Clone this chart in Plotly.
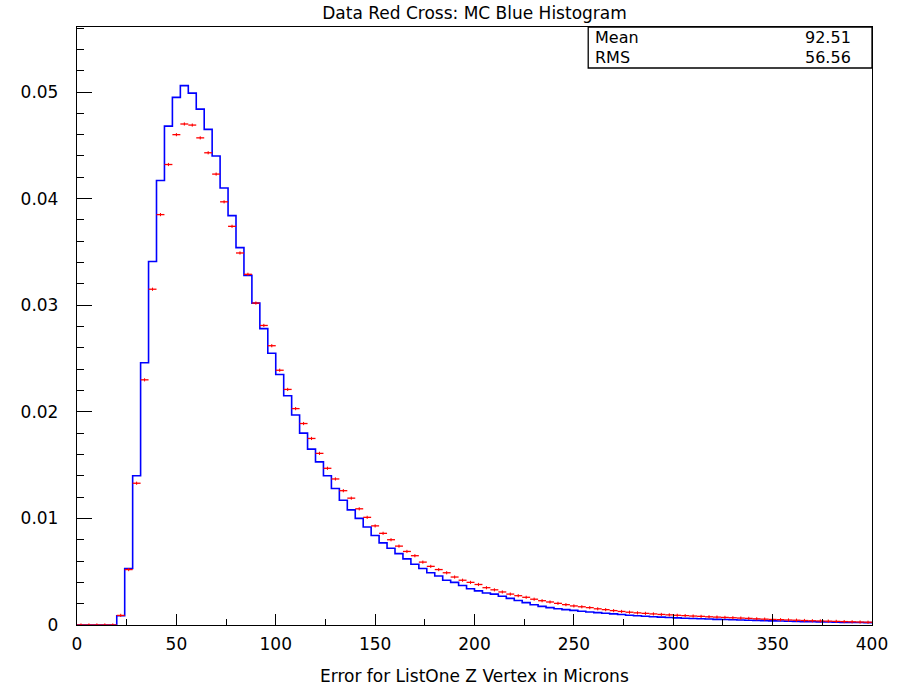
import plotly.graph_objects as go

# ---- data ----
bin_edges_start = 0
bin_width = 4
n_bins = 100

mc_blue = [
    0, 0, 0, 0, 0,
    0.00087, 0.0053, 0.0140, 0.0246, 0.0341,
    0.0417, 0.0468, 0.0495, 0.0506, 0.0499,
    0.0484, 0.0465, 0.0440, 0.0410, 0.0384,
    0.0354, 0.0328, 0.0302, 0.0278, 0.0255,
    0.0235, 0.0215, 0.0197, 0.0180, 0.0165,
    0.0153, 0.0140, 0.0128, 0.0117, 0.0108,
    0.0100, 0.0092, 0.0084, 0.0077, 0.0072,
    0.0067, 0.0062, 0.0057, 0.0053, 0.0049,
    0.0046, 0.0042, 0.0040, 0.0037, 0.0034,
    0.0032, 0.0030, 0.0029, 0.0027, 0.0025,
    0.0023, 0.0021, 0.0019, 0.00175, 0.00163,
    0.00153, 0.00144, 0.00137, 0.00129, 0.00122,
    0.00116, 0.00110, 0.00104, 0.00098, 0.00092,
    0.00087, 0.00082, 0.00078, 0.00074, 0.00070,
    0.00067, 0.00064, 0.00061, 0.00058, 0.00056,
    0.00053, 0.00051, 0.00049, 0.00047, 0.00045,
    0.00043, 0.00041, 0.00039, 0.00037, 0.00035,
    0.00034, 0.00032, 0.00031, 0.00029, 0.00028,
    0.00027, 0.00025, 0.00024, 0.00023, 0.00022,
]

data_red = [
    0, 0, 0, 0, 0,
    0.0009, 0.0052, 0.0133, 0.0230, 0.0315,
    0.0385, 0.0432, 0.0460, 0.0470, 0.0469,
    0.0457, 0.0443, 0.0423, 0.0397, 0.0374,
    0.0349, 0.0329, 0.0302, 0.0281, 0.0262,
    0.0239, 0.0221, 0.0203, 0.0189, 0.0175,
    0.0161, 0.0147, 0.0137, 0.0126, 0.0119,
    0.0109, 0.0101, 0.0093, 0.0086, 0.0080,
    0.0074, 0.0069, 0.0065, 0.0059, 0.0055,
    0.0052, 0.0049, 0.0045, 0.0042, 0.0040,
    0.0038, 0.0035, 0.0033, 0.0031, 0.0029,
    0.00275, 0.0026, 0.00242, 0.00228, 0.00216,
    0.00203, 0.00191, 0.00179, 0.00171, 0.00163,
    0.00152, 0.00144, 0.00135, 0.00127, 0.00120,
    0.00114, 0.00109, 0.00104, 0.00099, 0.00095,
    0.00091, 0.00088, 0.00084, 0.00081, 0.00077,
    0.00074, 0.00071, 0.00068, 0.00065, 0.00062,
    0.00058, 0.00055, 0.00052, 0.00050, 0.00047,
    0.00045, 0.00042, 0.00040, 0.00038, 0.00036,
    0.00034, 0.00032, 0.00030, 0.00028, 0.00026,
]

data_err = 0.00015

title_text = "Data Red Cross: MC Blue Histogram"
x_title = "Error for ListOne Z Vertex in Microns"
stats_labels = ["Mean", "RMS"]
stats_values = ["92.51", "56.56"]

# ---- derived bin geometry ----
edges = [bin_edges_start + i * bin_width for i in range(n_bins + 1)]
centers = [e + bin_width / 2 for e in edges[:-1]]

FONT = "DejaVu Sans"

fig = go.Figure()

# MC histogram as a step line
fig.add_trace(go.Scatter(
    x=[edges[0]] + edges,
    y=[0] + mc_blue + [mc_blue[-1]],
    mode="lines",
    line=dict(color="#0000ff", width=1.6, shape="hv"),
    showlegend=False,
    hoverinfo="skip",
))

# data crosses
fig.add_trace(go.Scatter(
    x=centers,
    y=data_red,
    mode="markers",
    marker=dict(color="#ff0000", size=1),
    error_x=dict(type="constant", value=bin_width / 2, color="#ff0000",
                 thickness=1.3, width=0),
    error_y=dict(type="constant", value=data_err, color="#ff0000",
                 thickness=1.0, width=0),
    showlegend=False,
))

L, R, T, B = 77, 19, 27, 65
W, H = 900, 690
pw, ph = W - L - R, H - T - B


def px_x(p):
    return (p - L) / pw


def px_y(p):
    return (H - B - p) / ph


fig.update_layout(
    width=W, height=H,
    margin=dict(l=L, r=R, t=T, b=B, pad=0),
    paper_bgcolor="white",
    plot_bgcolor="white",
    font=dict(family=FONT, size=16, color="#000000"),
    title=dict(text=title_text, x=0.5, xref="paper", xanchor="center",
               y=1 - 13 / H, yref="container", yanchor="middle",
               font=dict(family=FONT, size=17, color="#000000")),
)

fig.update_xaxes(
    range=[0, 400],
    showgrid=False, zeroline=False,
    showline=True, linecolor="#000000", linewidth=1.3, mirror=True,
    ticks="inside", tickcolor="#000000", ticklen=11, tickwidth=1.2,
    tick0=0, dtick=50,
    minor=dict(ticks="inside", dtick=25, ticklen=6, tickcolor="#000000", tickwidth=1),
    tickfont=dict(family=FONT, size=17, color="#000000"),
    ticklabelstandoff=3,
)
fig.update_yaxes(
    range=[0, 0.0561],
    showgrid=False, zeroline=False,
    showline=True, linecolor="#000000", linewidth=1.3, mirror=True,
    ticks="inside", tickcolor="#000000", ticklen=15, tickwidth=1.2,
    tickvals=[0, 0.01, 0.02, 0.03, 0.04, 0.05],
    ticktext=["0", "0.01", "0.02", "0.03", "0.04", "0.05"],
    minor=dict(ticks="inside", dtick=0.002, ticklen=7, tickcolor="#000000", tickwidth=1),
    tickfont=dict(family=FONT, size=17, color="#000000"),
    ticklabelstandoff=14,
)

# stats box
fig.add_shape(type="rect", xref="paper", yref="paper",
              x0=px_x(594), x1=1.0, y0=px_y(68), y1=1.0,
              line=dict(color="#000000", width=1.3), fillcolor="white", layer="above")
row_y = [38, 58]
for lab, val, yy in zip(stats_labels, stats_values, row_y):
    fig.add_annotation(xref="paper", yref="paper", x=px_x(599), y=px_y(yy),
                       text=lab, showarrow=False, xanchor="left", yanchor="middle",
                       font=dict(family=FONT, size=16, color="#000000"))
    fig.add_annotation(xref="paper", yref="paper", x=px_x(862), y=px_y(yy),
                       text=val, showarrow=False, xanchor="right", yanchor="middle",
                       font=dict(family=FONT, size=16, color="#000000"))

# x-axis title
fig.add_annotation(xref="paper", yref="paper", x=0.5, y=px_y(676),
                   text=x_title, showarrow=False, xanchor="center", yanchor="middle",
                   font=dict(family=FONT, size=17, color="#000000"))

fig.write_html("out.html")
